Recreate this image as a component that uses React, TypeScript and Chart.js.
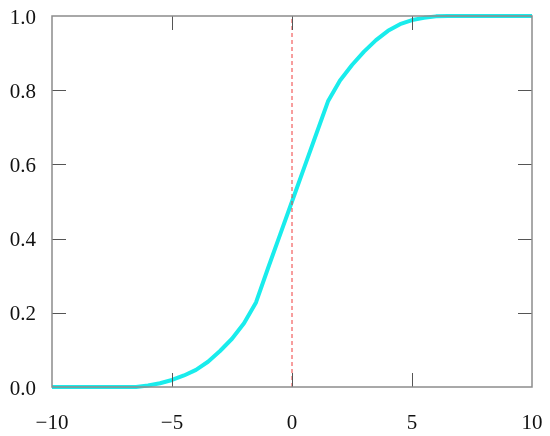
import React, { useEffect, useRef } from "react";
import { Chart, registerables } from "chart.js";

Chart.register(...registerables);

const xValues = [-10, -6.5, -6.0, -5.5, -5.0, -4.5, -4.0, -3.5, -3.0, -2.5, -2.0, -1.5, -1.0, -0.5, 0, 0.5, 1.0, 1.5, 2.0, 2.5, 3.0, 3.5, 4.0, 4.5, 5.0, 5.5, 6.0, 6.5, 10];
const yValues = [0, 0, 0.004, 0.01, 0.019, 0.031, 0.046, 0.068, 0.097, 0.13, 0.172, 0.228, 0.32, 0.41, 0.5, 0.59, 0.68, 0.77, 0.826, 0.868, 0.904, 0.935, 0.96, 0.978, 0.989, 0.995, 0.999, 1.0, 1.0];
const refLineX = [0, 0];
const refLineY = [0, 1];
const xTicks = [-10, -5, 0, 5, 10];
const yTicks = [0, 0.2, 0.4, 0.6, 0.8, 1.0];

const FONT = "'Liberation Serif', 'Times New Roman', serif";

const framePlugin = {
  id: "frameTicks",
  afterDraw(chart: any) {
    const { ctx, chartArea: a, scales } = chart;
    const xs = scales.x;
    const ys = scales.y;
    const tl = 14;
    ctx.save();
    ctx.strokeStyle = "#555";
    ctx.lineWidth = 1;
    ctx.beginPath();
    xTicks.forEach((v) => {
      if (v === xTicks[0] || v === xTicks[xTicks.length - 1]) return;
      const px = Math.round(xs.getPixelForValue(v)) + 0.5;
      ctx.moveTo(px, a.bottom);
      ctx.lineTo(px, a.bottom - tl);
      ctx.moveTo(px, a.top);
      ctx.lineTo(px, a.top + tl);
    });
    yTicks.forEach((v) => {
      if (v === yTicks[0] || v === yTicks[yTicks.length - 1]) return;
      const py = Math.round(ys.getPixelForValue(v)) + 0.5;
      ctx.moveTo(a.left, py);
      ctx.lineTo(a.left + tl, py);
      ctx.moveTo(a.right, py);
      ctx.lineTo(a.right - tl, py);
    });
    ctx.stroke();
    ctx.strokeStyle = "#8c8c8c";
    ctx.lineWidth = 1.5;
    ctx.strokeRect(a.left, a.top, a.right - a.left, a.bottom - a.top);
    ctx.restore();
  },
};

export default function App() {
  const ref = useRef<HTMLCanvasElement | null>(null);
  useEffect(() => {
    if (!ref.current) return;
    const chart = new Chart(ref.current, {
      type: "line",
      data: {
        datasets: [
          {
            data: refLineX.map((x, i) => ({ x, y: refLineY[i] })),
            borderColor: "#f03c3c",
            borderWidth: 1,
            borderDash: [4, 3],
            pointRadius: 0,
            order: 0,
          },
          {
            data: xValues.map((x, i) => ({ x, y: yValues[i] })),
            borderColor: "#19ecec",
            borderWidth: 4,
            pointRadius: 0,
            tension: 0,
            borderJoinStyle: "round",
            clip: 6,
            order: 1,
          },
        ],
      },
      options: {
        animation: false,
        responsive: false,
        maintainAspectRatio: false,
        layout: { padding: { top: 16, right: 18, left: 0, bottom: 0 } },
        plugins: { legend: { display: false }, tooltip: { enabled: false } },
        scales: {
          x: {
            type: "linear",
            min: -10,
            max: 10,
            afterBuildTicks: (s: any) => {
              s.ticks = xTicks.map((v) => ({ value: v }));
            },
            afterFit: (s: any) => {
              s.height = 49;
              s.paddingLeft = 0;
              s.paddingRight = 0;
            },
            grid: { display: false, drawTicks: false },
            border: { display: false },
            ticks: {
              padding: 24,
              color: "#111",
              font: { family: FONT, size: 21 },
              maxRotation: 0,
              callback: (v: any) => String(v).replace("-", "\u2212"),
            },
          },
          y: {
            type: "linear",
            min: 0,
            max: 1,
            afterBuildTicks: (s: any) => {
              s.ticks = yTicks.map((v) => ({ value: v }));
            },
            afterFit: (s: any) => {
              s.width = 52;
              s.paddingTop = 0;
              s.paddingBottom = 0;
            },
            grid: { display: false, drawTicks: false },
            border: { display: false },
            ticks: {
              padding: 16,
              labelOffset: 2,
              color: "#111",
              font: { family: FONT, size: 21 },
              callback: (v: any) => Number(v).toFixed(1),
            },
          },
        },
      },
      plugins: [framePlugin],
    } as any);
    return () => chart.destroy();
  }, []);
  return (
    <div style={{ position: "fixed", left: 0, top: 0, width: 550, height: 436, background: "#fff" }}>
      <canvas ref={ref} width={550} height={436} style={{ width: 550, height: 436 }} />
    </div>
  );
}
